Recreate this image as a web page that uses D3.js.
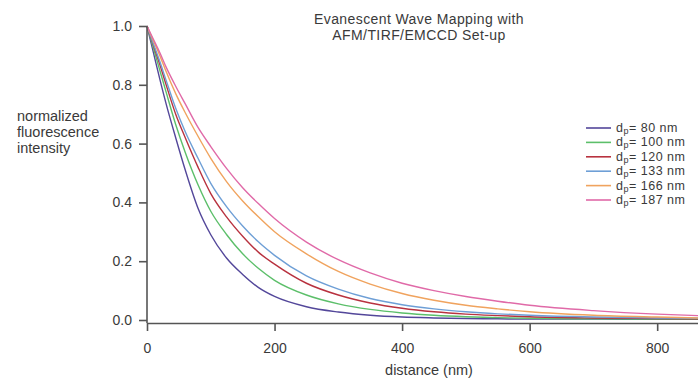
<!DOCTYPE html>
<html>
<head>
<meta charset="utf-8">
<script src="https://cdn.jsdelivr.net/npm/d3@7"></script>
<style>
  body { margin: 0; background: #fff; }
  svg { display: block; font-family: "Liberation Sans", Arial, sans-serif; }
</style>
</head>
<body>
<div id="chart"></div>
<script>
// distance samples (nm)
const distance = [0, 10, 20, 30, 45, 60, 80, 100, 125, 150, 175, 200, 250, 300, 350, 400, 450, 500, 550, 600, 700, 800, 864];

// normalized intensity, one array per penetration depth
const dp80  = [1, 0.91, 0.82, 0.735, 0.62, 0.51, 0.38, 0.29, 0.21, 0.155, 0.11, 0.08, 0.045, 0.027, 0.016, 0.01, 0.007, 0.005, 0.004, 0.003, 0.003, 0.002, 0.002];
const dp100 = [1, 0.925, 0.85, 0.775, 0.665, 0.57, 0.46, 0.37, 0.29, 0.225, 0.175, 0.135, 0.085, 0.055, 0.036, 0.024, 0.016, 0.011, 0.008, 0.006, 0.004, 0.003, 0.003];
const dp120 = [1, 0.935, 0.87, 0.80, 0.70, 0.62, 0.52, 0.43, 0.35, 0.285, 0.23, 0.19, 0.125, 0.085, 0.058, 0.04, 0.028, 0.02, 0.015, 0.011, 0.007, 0.005, 0.004];
const dp133 = [1, 0.94, 0.88, 0.815, 0.72, 0.64, 0.55, 0.465, 0.385, 0.32, 0.265, 0.22, 0.15, 0.105, 0.073, 0.052, 0.038, 0.028, 0.021, 0.016, 0.01, 0.007, 0.006];
const dp166 = [1, 0.95, 0.90, 0.845, 0.77, 0.705, 0.625, 0.55, 0.47, 0.405, 0.35, 0.30, 0.225, 0.165, 0.122, 0.09, 0.067, 0.05, 0.038, 0.028, 0.016, 0.01, 0.007];
const dp187 = [1, 0.955, 0.91, 0.86, 0.795, 0.735, 0.655, 0.59, 0.515, 0.45, 0.395, 0.345, 0.265, 0.205, 0.16, 0.125, 0.1, 0.08, 0.064, 0.05, 0.032, 0.02, 0.015];

const depthLabels = ["80", "100", "120", "133", "166", "187"];
const seriesColors = ["#53479a", "#5cbf6a", "#b8323f", "#6e9fd6", "#f0a35e", "#e06aa8"];
const allSeries = [dp80, dp100, dp120, dp133, dp166, dp187];

const xTicks = [0, 200, 400, 600, 800];
const yTicks = [0, 0.2, 0.4, 0.6, 0.8, 1.0];

const W = 698, H = 380;
const svg = d3.select('#chart').append('svg')
  .attr('width', W)
  .attr('height', H);

const x = d3.scaleLinear().domain([0, 864]).range([147, 698]);
const y = d3.scaleLinear().domain([0, 1]).range([320, 26]);

const axisColor = '#555';
const textColor = '#3a3a3a';

// curves
const line = d3.line()
  .x((d, i) => x(distance[i]))
  .y(d => y(d))
  .curve(d3.curveMonotoneX);

svg.append('g')
  .selectAll('path')
  .data(allSeries)
  .enter()
  .append('path')
  .attr('d', d => line(d))
  .attr('fill', 'none')
  .attr('stroke', (d, i) => seriesColors[i])
  .attr('stroke-width', 1.4);

// y axis
const yAxis = svg.append('g')
  .attr('transform', `translate(${x(0)},0)`)
  .call(d3.axisLeft(y).tickValues(yTicks).tickFormat(d3.format('.1f')).tickSize(8).tickSizeOuter(0));
yAxis.select('.domain').attr('d', `M0,${y(1)}V323`);

// x axis, sits a little below the zero line
const xAxis = svg.append('g')
  .attr('transform', 'translate(0,323)')
  .call(d3.axisBottom(x).tickValues(xTicks).tickSize(8).tickSizeOuter(0));

svg.selectAll('.domain').attr('stroke', axisColor).attr('stroke-width', 1.6);
svg.selectAll('.tick line').attr('stroke', axisColor).attr('stroke-width', 1.6);
svg.selectAll('.tick text')
  .attr('fill', textColor)
  .style('font-size', '14px');
yAxis.selectAll('.tick text').attr('x', -15);
xAxis.selectAll('.tick text').attr('y', 20);

// axis titles
svg.append('text')
  .attr('x', 429)
  .attr('y', 375)
  .attr('text-anchor', 'middle')
  .attr('fill', textColor)
  .style('font-size', '14.5px')
  .text('distance (nm)');

const yTitle = ['normalized', 'fluorescence', 'intensity'];
svg.append('g')
  .selectAll('text')
  .data(yTitle)
  .enter()
  .append('text')
  .attr('x', 17)
  .attr('y', (d, i) => 121 + i * 16)
  .attr('fill', textColor)
  .style('font-size', '14.5px')
  .text(d => d);

// title
const title = ['Evanescent Wave Mapping with', 'AFM/TIRF/EMCCD Set-up'];
svg.append('g')
  .selectAll('text')
  .data(title)
  .enter()
  .append('text')
  .attr('x', 419)
  .attr('y', (d, i) => 24 + i * 16)
  .attr('text-anchor', 'middle')
  .attr('fill', textColor)
  .style('font-size', '14px')
  .style('letter-spacing', '0.4px')
  .text(d => d);

// legend
const legend = svg.append('g').attr('transform', 'translate(586,128)');
const rows = legend.selectAll('g')
  .data(depthLabels)
  .enter()
  .append('g')
  .attr('transform', (d, i) => `translate(0,${i * 14.4})`);

rows.append('line')
  .attr('x1', 0).attr('x2', 25)
  .attr('y1', 0).attr('y2', 0)
  .attr('stroke', (d, i) => seriesColors[i])
  .attr('stroke-width', 1.6);

const lt = rows.append('text')
  .attr('x', 30)
  .attr('y', 4)
  .attr('fill', textColor)
  .style('font-size', '12.5px')
  .style('letter-spacing', '0.5px');
lt.append('tspan').text('d');
lt.append('tspan').attr('dy', 2).style('font-size', '9px').text('p');
lt.append('tspan').attr('dy', -2).text(d => `= ${d} nm`);
</script>
</body>
</html>
